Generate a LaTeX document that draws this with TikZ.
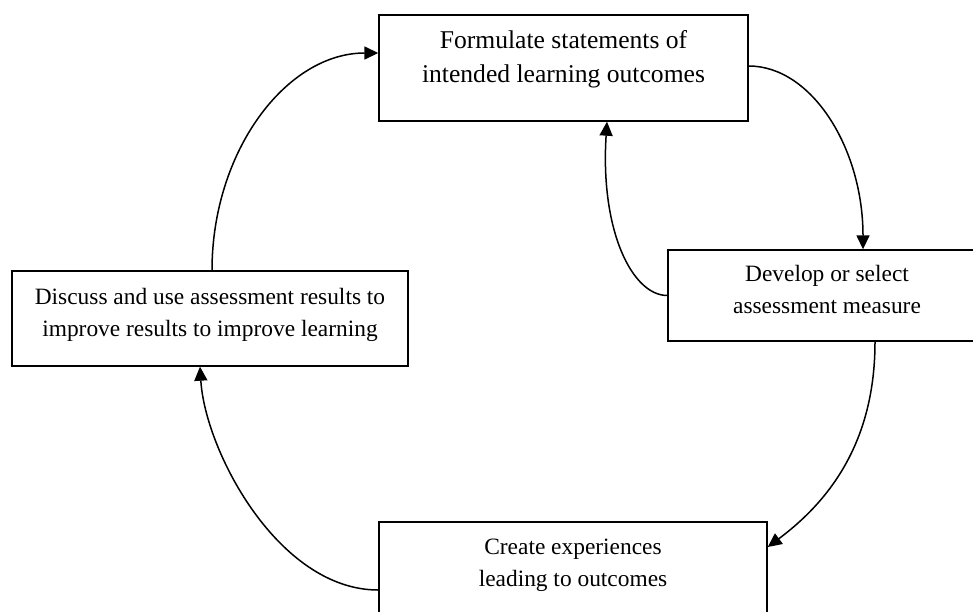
\documentclass[tikz,border=0pt]{standalone}
\usepackage{fontspec}
\setmainfont{Liberation Serif}
\usetikzlibrary{arrows.meta}
\begin{document}
\begin{tikzpicture}[x=1pt,y=-1pt,
  box/.style={draw,line width=1.4pt,inner sep=0pt},
  lbl/.style={anchor=north,inner sep=0pt,align=center,font=\fontsize{23.4}{32}\selectfont},
  biglbl/.style={lbl,font=\fontsize{25.6}{34}\selectfont},
  conn/.style={-{Triangle[length=14pt,width=13pt]},line width=1.5pt}]
\useasboundingbox (0,0) rectangle (973,611);
\clip (0,0) rectangle (973,611);
% boxes
\node[box,minimum width=369pt,minimum height=106pt] (A) at (563.5,68) {};
\node[box,minimum width=318pt,minimum height=91pt] (B) at (827,295.5) {};
\node[box,minimum width=388pt,minimum height=110pt] (C) at (573,577) {};
\node[box,minimum width=396pt,minimum height=95pt] (D) at (210,318.5) {};
% texts
\node[biglbl] (tA) at ([yshift=-15.5pt]A.north) {Formulate statements of\\intended learning outcomes};
\node[lbl] (tB) at ([yshift=-16pt]B.north) {Develop or select\\assessment measure};
\node[lbl] (tC) at ([yshift=-17pt]C.north) {Create experiences\\leading to outcomes};
\node[lbl] (tD) at ([yshift=-18pt]D.north) {Discuss and use assessment results to\\improve results to improve learning};
% connectors
\draw[conn] ([yshift=2pt]A.east) .. controls +(63,0) and +(0,-101) .. ([xshift=36pt]B.north);
\draw[conn] (B.west) .. controls +(-35,0) and +(-7,109) .. ([xshift=43.5pt]A.south);
\draw[conn] ([xshift=48pt]B.south) .. controls +(0,99) and +(63,-47) .. ([yshift=30pt]C.east);
\draw[conn] ([yshift=-13pt]C.west) .. controls +(-100,0) and +(5,84) .. ([xshift=-10pt]D.south);
\draw[conn] ([xshift=2pt]D.north) .. controls +(0,-119) and +(-92,0) .. ([yshift=15pt]A.west);
\end{tikzpicture}
\end{document}
